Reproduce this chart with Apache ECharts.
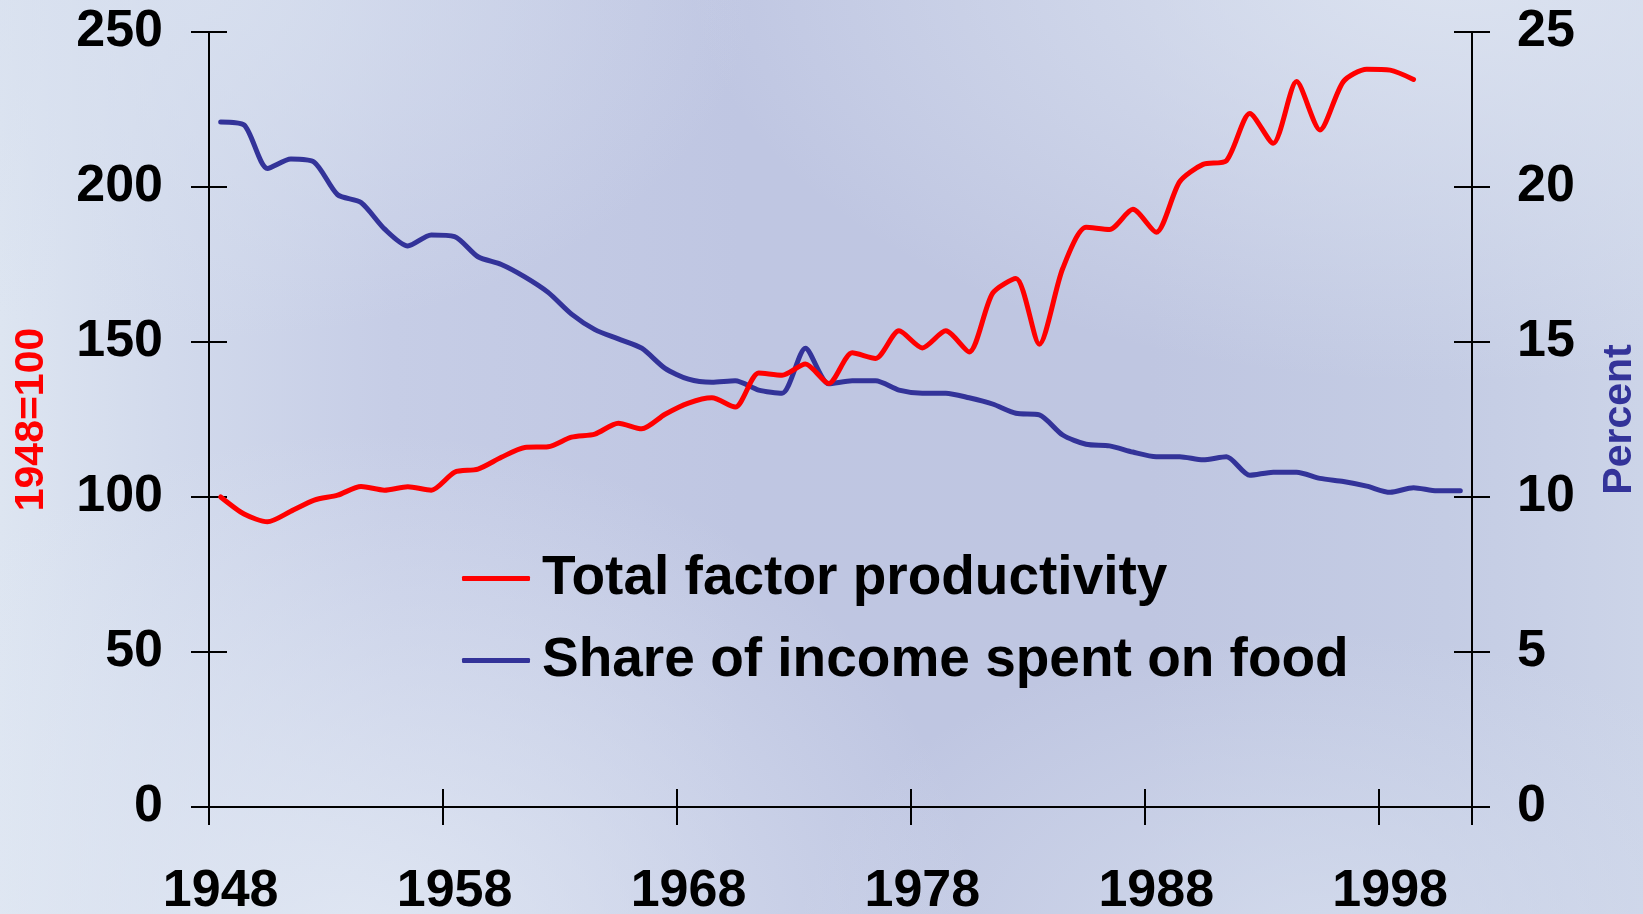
<!DOCTYPE html>
<html>
<head>
<meta charset="utf-8">
<script src="https://cdn.jsdelivr.net/npm/echarts@6/dist/echarts.min.js"></script>
<style>
  html, body { margin: 0; padding: 0; }
  body {
    width: 1643px;
    height: 914px;
    overflow: hidden;
    background:
      radial-gradient(ellipse 760px 420px at 88% -4%, rgba(221, 228, 241, 0.95), rgba(221, 228, 241, 0) 100%),
      radial-gradient(ellipse 620px 520px at 22% 104%, rgba(226, 233, 244, 0.9), rgba(226, 233, 244, 0) 100%),
      radial-gradient(ellipse 520px 320px at 80% 104%, rgba(214, 222, 238, 0.8), rgba(214, 222, 238, 0) 100%),
      radial-gradient(ellipse 560px 360px at 12% -2%, rgba(216, 224, 239, 0.85), rgba(216, 224, 239, 0) 100%),
      linear-gradient(90deg, #dde5f1 0%, #d2daec 10%, #c6cde6 24%, #bfc6e2 45%, #bfc6e1 70%, #c4cce4 88%, #ccd4e8 100%);
  }
  #chart { width: 1643px; height: 914px; }
</style>
</head>
<body>
<div id="chart"></div>
<script>
// years on the category axis
const years = []
for (let y = 1948; y <= 2001; y++) years.push(String(y))

// Total factor productivity, 1948=100 (left axis), 1948-1999
const tfp = [
  100, 94.5, 92, 95.4, 99, 100.6, 103.4, 102.2, 103.3, 102.2,
  108, 109, 112.8, 116, 116.2, 119.3, 120.3, 123.8, 122, 126.7,
  130.3, 132, 129, 140, 139.3, 142.9, 136.6, 146.5, 144.7, 153.6,
  148.1, 153.6, 146.8, 165.7, 170.5, 149.3, 173.7, 187, 186.3, 192.8,
  185.4, 201.7, 207.3, 208.5, 223.7, 214.1, 234, 218.4, 234, 238,
  237.7, 234.7
]

// Share of income spent on food, percent (right axis), 1948-2001
const foodShare = [
  22.1, 22.0, 20.6, 20.9, 20.8, 19.75, 19.5, 18.65, 18.1, 18.45,
  18.4, 17.75, 17.5, 17.1, 16.6, 15.9, 15.4, 15.1, 14.8, 14.15,
  13.8, 13.7, 13.75, 13.45, 13.35, 14.8, 13.65, 13.75, 13.75, 13.45,
  13.35, 13.35, 13.2, 13.0, 12.7, 12.65, 12.0, 11.7, 11.65, 11.45,
  11.3, 11.3, 11.2, 11.3, 10.7, 10.8, 10.8, 10.6, 10.5, 10.35,
  10.15, 10.3, 10.2, 10.2
]

const RED = '#ff0000'
const BLUE = '#333399'
const FONT = '"Liberation Sans", Arial, sans-serif'

const chart = echarts.init(document.getElementById('chart'))

const labelStyle = { color: '#000', fontSize: 52, fontWeight: 'bold', fontFamily: FONT }
const tickStyle = { color: '#000', width: 2 }

// second copy of each axis draws the inner half of the crossing ticks
const innerY = (max, interval, position) => ({
  type: 'value', position, min: 0, max, interval,
  axisLine: { show: false },
  axisTick: { show: true, inside: true, length: 18, lineStyle: tickStyle },
  axisLabel: { show: false },
  splitLine: { show: false }
})

chart.setOption({
  backgroundColor: 'transparent',
  animation: false,
  grid: { left: 209, right: 171, top: 32, bottom: 107, outerBoundsMode: 'none' },
  legend: {
    orient: 'vertical',
    left: 462,
    top: 551,
    padding: 0,
    itemWidth: 68,
    itemHeight: 5,
    itemGap: 27,
    icon: 'roundRect',
    textStyle: {
      color: '#000', fontSize: 55, fontWeight: 'bold', fontFamily: FONT,
      lineHeight: 54, padding: [0, 0, 0, 7]
    },
    data: ['Total factor productivity', 'Share of income spent on food']
  },
  xAxis: [
    {
      type: 'category',
      data: years,
      boundaryGap: true,
      axisLine: { show: true, lineStyle: tickStyle },
      axisTick: { show: true, interval: 9, length: 18, lineStyle: tickStyle },
      axisLabel: { interval: 9, margin: 59, ...labelStyle },
      splitLine: { show: false }
    },
    {
      type: 'category',
      data: years,
      position: 'bottom',
      boundaryGap: true,
      axisLine: { show: false },
      axisTick: { show: true, inside: true, interval: 9, length: 18, lineStyle: tickStyle },
      axisLabel: { show: false },
      splitLine: { show: false }
    }
  ],
  yAxis: [
    {
      type: 'value', position: 'left', min: 0, max: 250, interval: 50,
      name: '1948=100', nameLocation: 'middle', nameRotate: 90, nameGap: 157,
      nameTextStyle: { color: RED, fontSize: 41, fontWeight: 'bold', fontFamily: FONT },
      axisLine: { show: true, lineStyle: tickStyle },
      axisTick: { show: true, length: 18, lineStyle: tickStyle },
      axisLabel: { margin: 46, ...labelStyle },
      splitLine: { show: false }
    },
    {
      type: 'value', position: 'right', min: 0, max: 25, interval: 5,
      name: 'Percent', nameLocation: 'middle', nameRotate: 90, nameGap: 127,
      nameTextStyle: { color: BLUE, fontSize: 41, fontWeight: 'bold', fontFamily: FONT },
      axisLine: { show: true, lineStyle: tickStyle },
      axisTick: { show: true, length: 18, lineStyle: tickStyle },
      axisLabel: { margin: 45, ...labelStyle },
      splitLine: { show: false }
    },
    innerY(250, 50, 'left'),
    innerY(25, 5, 'right')
  ],
  series: [
    {
      name: 'Total factor productivity',
      type: 'line',
      yAxisIndex: 0,
      data: tfp,
      smooth: 0.25,
      showSymbol: false,
      symbol: 'none',
      lineStyle: { color: RED, width: 5, join: 'round', cap: 'round' },
      itemStyle: { color: RED },
      z: 3
    },
    {
      name: 'Share of income spent on food',
      type: 'line',
      yAxisIndex: 1,
      data: foodShare,
      smooth: 0.25,
      showSymbol: false,
      symbol: 'none',
      lineStyle: { color: BLUE, width: 5, join: 'round', cap: 'round' },
      itemStyle: { color: BLUE },
      z: 2
    }
  ]
})
</script>
</body>
</html>
